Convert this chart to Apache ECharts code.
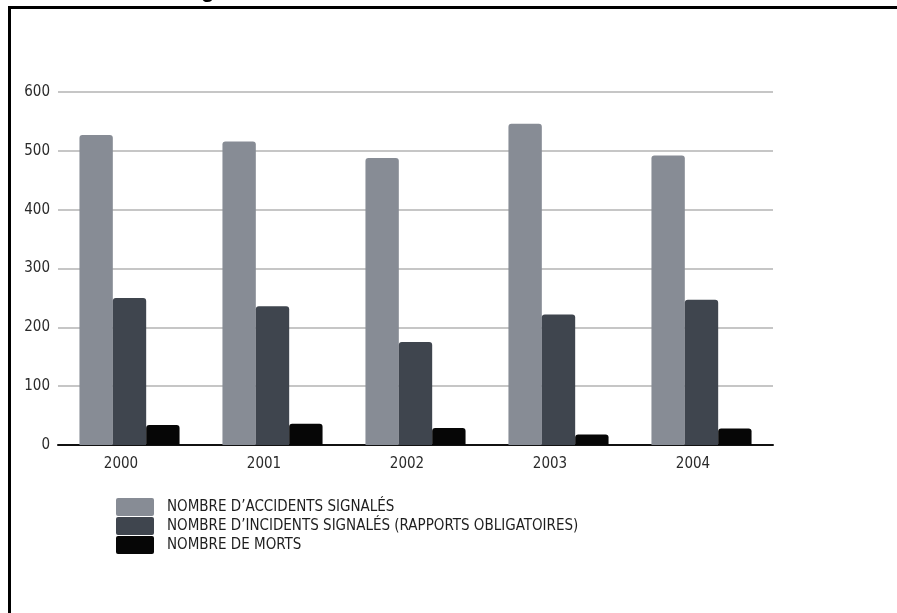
<!DOCTYPE html>
<html>
<head>
<meta charset="utf-8">
<script src="https://cdn.jsdelivr.net/npm/echarts@6/dist/echarts.min.js"></script>
<style>
  html, body { margin: 0; padding: 0; background: #ffffff; }
  #chart { width: 897px; height: 613px; }
</style>
</head>
<body>
<div id="chart"></div>
<script>
// Years on the category axis
const years = ['2000', '2001', '2002', '2003', '2004'];

// Series values per year
const accidents = [527, 516, 488, 546, 492];
const incidents = [250, 236, 175, 222, 247];
const deaths = [34, 36, 29, 18, 28];

// Series names shown in the legend
const seriesNames = [
  'NOMBRE D\u2019ACCIDENTS SIGNALÉS',
  'NOMBRE D\u2019INCIDENTS SIGNALÉS (RAPPORTS OBLIGATOIRES)',
  'NOMBRE DE MORTS'
];

// Value axis ticks
const yMin = 0, yMax = 600, yStep = 100;

const titleText = 'Figure 3 – Événements maritimes et nombre de morts';

const narrow = "'Liberation Sans Narrow', 'DejaVu Sans Condensed', 'Liberation Sans', sans-serif";
const colors = ['#878c95', '#3f454e', '#060606'];

const chart = echarts.init(document.getElementById('chart'), null, { renderer: 'canvas' });

const seriesData = [accidents, incidents, deaths];

chart.setOption({
  animation: false,
  backgroundColor: '#ffffff',
  color: colors,
  grid: { left: 58, right: 124, top: 92, bottom: 168, containLabel: false },
  legend: {
    orient: 'vertical',
    left: 116,
    top: 498,
    padding: 0,
    itemWidth: 38,
    itemHeight: 18,
    itemGap: 1,
    icon: 'path://M2,0 L36,0 Q38,0 38,2 L38,16 Q38,18 36,18 L2,18 Q0,18 0,16 L0,2 Q0,0 2,0 Z',
    selectedMode: false,
    textStyle: {
      fontFamily: narrow,
      fontSize: 15,
      color: '#1e1e1e',
      padding: [0, 0, 0, 8]
    },
    data: seriesNames
  },
  xAxis: {
    type: 'category',
    data: years,
    axisLine: { show: true, lineStyle: { color: '#111', width: 2 } },
    axisTick: { show: false },
    axisLabel: {
      fontFamily: narrow,
      fontSize: 15,
      color: '#2a2a2a',
      margin: 12,
      padding: [0, 17, 0, 0]
    }
  },
  yAxis: {
    type: 'value',
    min: yMin,
    max: yMax,
    interval: yStep,
    axisLine: { show: false },
    axisTick: { show: false },
    axisLabel: {
      fontFamily: narrow,
      fontSize: 15,
      color: '#2a2a2a',
      margin: 8
    },
    splitLine: { lineStyle: { color: '#c6c6c6', width: 2 } }
  },
  series: seriesNames.map((name, i) => ({
    name: name,
    type: 'bar',
    data: seriesData[i],
    barGap: '0%',
    barCategoryGap: '30%',
    itemStyle: { color: colors[i], borderRadius: [3, 3, 0, 0] }
  })),
  graphic: [
    {
      // frame around the figure
      type: 'polyline',
      shape: { points: [[9.5, 613], [9.5, 7.5], [897, 7.5]] },
      style: { stroke: '#000', lineWidth: 3, fill: null },
      z: 10
    },
    {
      type: 'text',
      x: 462,
      y: 2,
      style: {
        text: titleText,
        font: "bold 22px 'Liberation Sans', Arial, sans-serif",
        fill: '#000',
        textAlign: 'center',
        textVerticalAlign: 'bottom'
      },
      z: 5
    }
  ]
});
</script>
</body>
</html>
